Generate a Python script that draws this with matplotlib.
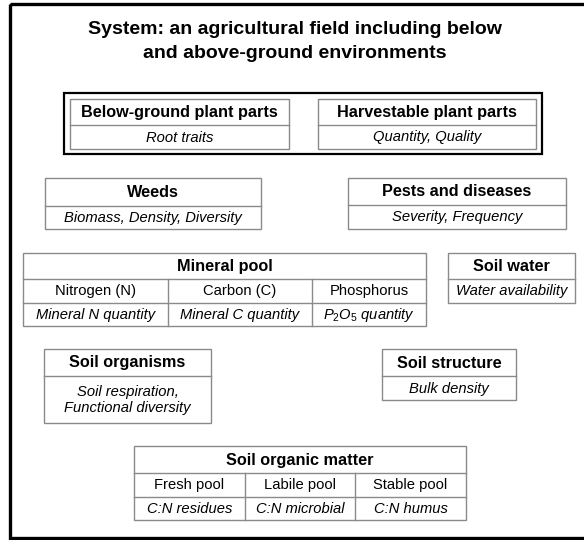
import matplotlib.pyplot as plt
from matplotlib.patches import Rectangle

plt.rcParams['font.family'] = ['Liberation Sans', 'DejaVu Sans']
plt.rcParams['mathtext.fontset'] = 'custom'
plt.rcParams['mathtext.rm'] = 'Liberation Sans'
plt.rcParams['mathtext.it'] = 'Liberation Sans:italic'

# texts of the diagram
title_lines = ["System: an agricultural field including below",
               "and above-ground environments"]

plant_headers = ["Below-ground plant parts", "Harvestable plant parts"]
plant_indicators = ["Root traits", "Quantity, Quality"]

single_headers = ["Weeds", "Pests and diseases", "Soil water",
                  "Soil organisms", "Soil structure"]
single_indicators = ["Biomass, Density, Diversity", "Severity, Frequency",
                     "Water availability", "Soil respiration,\nFunctional diversity",
                     "Bulk density"]

mineral_title = "Mineral pool"
mineral_pools = ["Nitrogen (N)", "Carbon (C)", "Phosphorus"]
mineral_indicators = ["Mineral N quantity", "Mineral C quantity",
                      r"$\mathit{P_2O_5}$ quantity"]

som_title = "Soil organic matter"
som_pools = ["Fresh pool", "Labile pool", "Stable pool"]
som_indicators = ["C:N residues", "C:N microbial", "C:N humus"]

# layout in pixel units (x0, x1, y0, ydiv, y1), y measured from top
plant_boxes = [(70, 289, 99, 125, 149), (318, 536, 99, 125, 149)]
single_boxes = [(45, 261, 178, 206, 229), (348, 566, 178, 205, 229),
                (448, 575, 253, 279, 303), (44, 211, 349, 376, 423),
                (382, 516, 349, 376, 400)]
mineral_box = (23, 426, 253, 279, 303, 326, [168, 312])
som_box = (134, 466, 446, 473, 497, 520, [245, 355])

GRAY = "#8a8a8a"
LW = 1.0
HEAD = dict(fontsize=11.7, fontweight="bold")
ITAL = dict(fontsize=10.6, fontstyle="italic")
REG = dict(fontsize=10.6)

fig = plt.figure(figsize=(5.84, 5.40), dpi=100)
ax = fig.add_axes([0, 0, 1, 1])
ax.set_xlim(0, 584)
ax.set_ylim(540, 0)
ax.axis("off")


def rect(x0, x1, y0, y1, color=GRAY, lw=LW):
    ax.add_patch(Rectangle((x0, y0), x1 - x0, y1 - y0, fill=False,
                           edgecolor=color, linewidth=lw))


def hline(x0, x1, y):
    ax.plot([x0, x1], [y, y], color=GRAY, lw=LW)


def vline(x, y0, y1):
    ax.plot([x, x], [y0, y1], color=GRAY, lw=LW)


def label(x, y, s, style):
    ax.text(x, y, s, ha="center", va="center", color="black", **style)


def simple_box(box, head, ind):
    x0, x1, y0, yd, y1 = box
    rect(x0, x1, y0, y1)
    hline(x0, x1, yd)
    xc = (x0 + x1) / 2
    label(xc, (y0 + yd) / 2 + 0.5, head, HEAD)
    label(xc, (yd + y1) / 2 + 0.5, ind, dict(ITAL, linespacing=1.15))


def table_box(box, head, pools, inds):
    x0, x1, y0, yd1, yd2, y1, cols = box
    rect(x0, x1, y0, y1)
    hline(x0, x1, yd1)
    hline(x0, x1, yd2)
    for c in cols:
        vline(c, yd1, y1)
    label((x0 + x1) / 2, (y0 + yd1) / 2 + 0.5, head, HEAD)
    edges = [x0] + cols + [x1]
    for i, (p, t) in enumerate(zip(pools, inds)):
        xc = (edges[i] + edges[i + 1]) / 2
        label(xc, (yd1 + yd2) / 2 + 0.5, p, REG)
        label(xc, (yd2 + y1) / 2 + 0.5, t, ITAL)


# outer frame (right side runs off the picture)
rect(10, 600, 4, 538, color="black", lw=2.4)

for i, line in enumerate(title_lines):
    label(295, 29 + i * 25, line, dict(fontsize=14, fontweight="bold"))

# plant parts group
rect(64, 542, 93, 154, color="black", lw=1.6)
for box, h, t in zip(plant_boxes, plant_headers, plant_indicators):
    simple_box(box, h, t)

for box, h, t in zip(single_boxes, single_headers, single_indicators):
    simple_box(box, h, t)

table_box(mineral_box, mineral_title, mineral_pools, mineral_indicators)
table_box(som_box, som_title, som_pools, som_indicators)

fig.savefig("out.png", dpi=100)
